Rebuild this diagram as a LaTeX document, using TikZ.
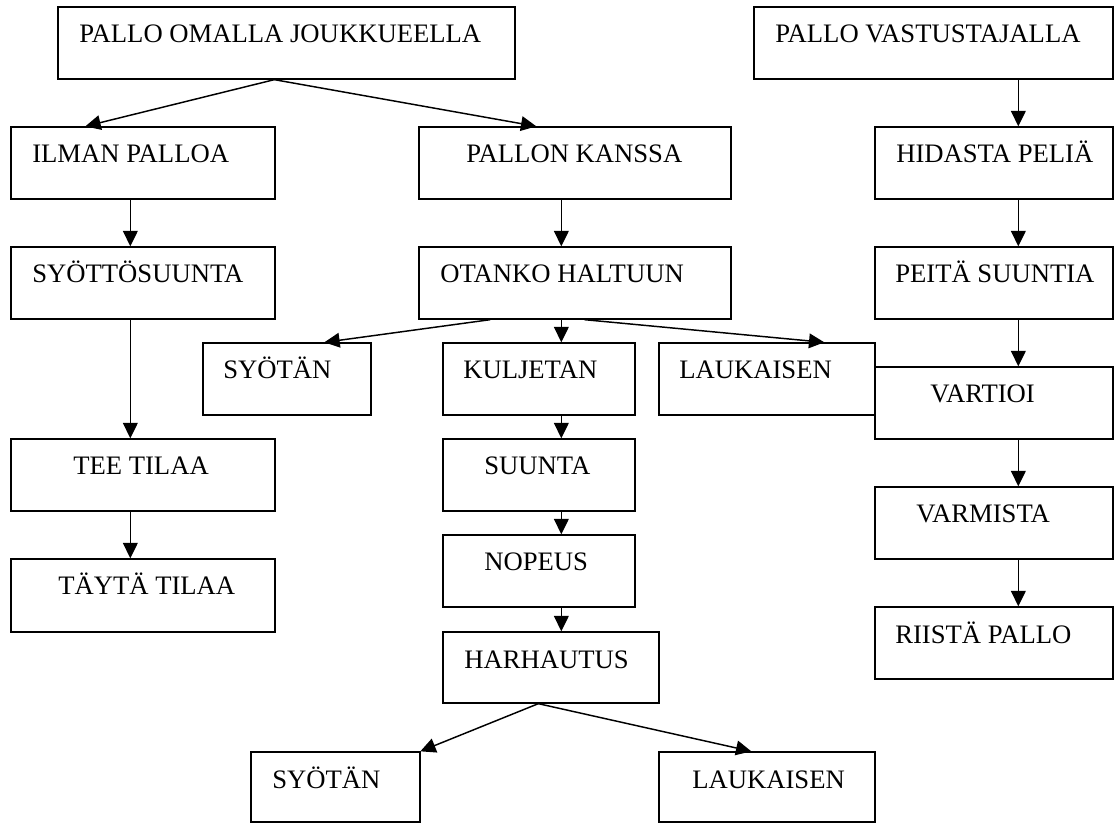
\documentclass[tikz,border=0pt]{standalone}
\usepackage{fontspec}
\setmainfont{Liberation Serif}
\usetikzlibrary{arrows.meta,fit,calc}
\tikzset{
  box/.style={draw, line width=1pt, fill=white, inner sep=0pt},
  txt/.style={anchor=base west, inner sep=0pt, font=\fontsize{20pt}{22pt}\selectfont},
  arr/.style={line width=1.1pt, -{Triangle[length=11.5pt,width=11pt]}},
}
\newcommand\bx[7]{%
  \node[box, fit={(#2,#3)(#4,#5)}] (#1) {};
  \node[txt] (#1t) at (#6,#3+36) {#7};
}
\begin{document}
\begin{tikzpicture}[x=0.75pt,y=-0.75pt]
\useasboundingbox (0,0) rectangle (1115,823);
\bx{omalla}{58}{7}{515}{79}{79}{PALLO OMALLA JOUKKUEELLA}
\bx{vast}{754}{7}{1113}{79}{775}{PALLO VASTUSTAJALLA}
\bx{ilman}{11}{127}{275}{199}{32}{ILMAN PALLOA}
\bx{kanssa}{419}{127}{731}{199}{466}{PALLON KANSSA}
\bx{hidasta}{875}{127}{1113}{199}{896}{HIDASTA PELIÄ}
\bx{syotto}{11}{247}{275}{319}{32}{SYÖTTÖSUUNTA}
\bx{otanko}{419}{247}{731}{319}{440}{OTANKO HALTUUN}
\bx{peita}{875}{247}{1113}{319}{895}{PEITÄ SUUNTIA}
\bx{syotanA}{203}{343}{371}{415}{223}{SYÖTÄN}
\bx{kulj}{443}{343}{635}{415}{463}{KULJETAN}
\bx{laukA}{659}{343}{875}{415}{679}{LAUKAISEN}
\bx{vartioi}{875}{367}{1113}{439}{930}{VARTIOI}
\bx{tee}{11}{439}{275}{511}{73}{TEE TILAA}
\bx{suunta}{443}{439}{635}{511}{484}{SUUNTA}
\bx{taytta}{11}{559}{275}{632}{58}{TÄYTÄ TILAA}
\bx{nopeus}{443}{535}{635}{607}{484}{NOPEUS}
\bx{varmista}{875}{487}{1113}{559}{916}{VARMISTA}
\bx{riista}{875}{607}{1113}{679}{895}{RIISTÄ PALLO}
\bx{harh}{443}{632}{659}{703}{464}{HARHAUTUS}
\bx{syotanB}{251}{752}{420}{822}{272}{SYÖTÄN}
\bx{laukB}{659}{752}{875}{822}{692}{LAUKAISEN}

\draw[arr] ($(omalla.south west)+(217,0)$) -- ($(ilman.north west)+(75,0)$);
\draw[arr] ($(omalla.south west)+(217,0)$) -- ($(kanssa.north west)+(118,0)$);
\draw[arr] ($(vast.south west)+(265,0)$) -- ($(hidasta.north west)+(144,0)$);
\draw[arr] ($(ilman.south west)+(120,0)$) -- ($(syotto.north west)+(120,0)$);
\draw[arr] ($(kanssa.south west)+(143,0)$) -- ($(otanko.north west)+(143,0)$);
\draw[arr] ($(hidasta.south west)+(144,0)$) -- ($(peita.north west)+(144,0)$);
\draw[arr] ($(syotto.south west)+(120,0)$) -- ($(tee.north west)+(120,0)$);
\draw[arr] ($(otanko.south west)+(72,0)$) -- ($(syotanA.north west)+(122,0)$);
\draw[arr] ($(otanko.south west)+(143,0)$) -- ($(kulj.north west)+(119,0)$);
\draw[arr] ($(otanko.south west)+(166,0)$) -- ($(laukA.north west)+(166,0)$);
\draw[arr] ($(peita.south west)+(144,0)$) -- ($(vartioi.north west)+(144,0)$);
\draw[arr] ($(tee.south west)+(120,0)$) -- ($(taytta.north west)+(120,0)$);
\draw[arr] ($(kulj.south west)+(119,0)$) -- ($(suunta.north west)+(119,0)$);
\draw[arr] ($(suunta.south west)+(119,0)$) -- ($(nopeus.north west)+(119,0)$);
\draw[arr] ($(nopeus.south west)+(119,0)$) -- ($(harh.north west)+(119,0)$);
\draw[arr] ($(vartioi.south west)+(144,0)$) -- ($(varmista.north west)+(144,0)$);
\draw[arr] ($(varmista.south west)+(144,0)$) -- ($(riista.north west)+(144,0)$);
\draw[arr] ($(harh.south west)+(96,0)$) -- ($(syotanB.north west)+(170,0)$);
\draw[arr] ($(harh.south west)+(96,0)$) -- ($(laukB.north west)+(93,0)$);
\end{tikzpicture}
\end{document}
